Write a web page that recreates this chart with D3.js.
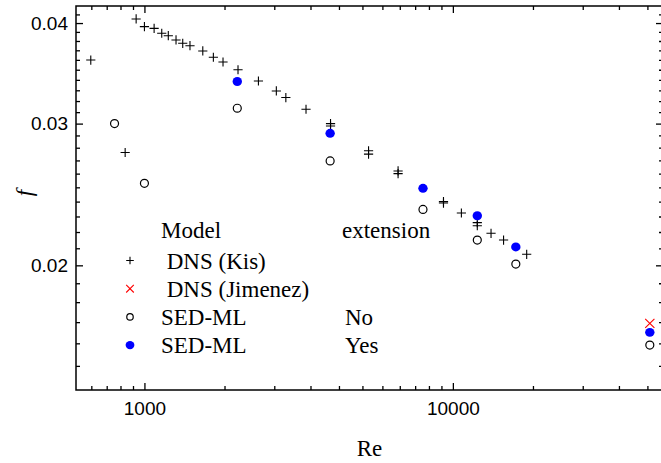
<!DOCTYPE html>
<html>
<head>
<meta charset="utf-8">
<script src="https://cdn.jsdelivr.net/npm/d3@7"></script>
<style>
body { margin: 0; background: #fff; }
svg { display: block; }
.tick text { font-family: "Liberation Sans", Arial, sans-serif; font-size: 19px; fill: #000; }
.lbl { font-family: "Liberation Serif", "Times New Roman", serif; font-size: 23px; fill: #000; }
</style>
</head>
<body>
<svg id="chart"></svg>
<script>
// DNS (Kis)
const kisRe = [670, 866, 940, 1000, 1075, 1138, 1195, 1266, 1331, 1405, 1546, 1673, 1798, 2011, 2342, 2677, 2874, 3341, 4012, 4012, 5329, 5329, 6643, 6643, 9323, 9323, 10656, 12000, 12000, 13296, 14600, 17350];
const kisF = [0.03598, 0.02762, 0.04047, 0.03959, 0.0394, 0.03885, 0.03858, 0.03811, 0.03775, 0.03749, 0.03693, 0.03627, 0.03578, 0.0350, 0.03389, 0.03294, 0.03232, 0.03126, 0.0300, 0.0298, 0.02776, 0.02749, 0.0262, 0.0260, 0.0240, 0.0239, 0.02323, 0.0226, 0.0224, 0.02192, 0.0215, 0.02064];
// DNS (Jimenez)
const jimRe = [43500];
const jimF = [0.01694];
// SED-ML, no extension
const noRe = [800, 1000, 2000, 4000, 8000, 12000, 16000, 43500];
const noF = [0.0300, 0.02529, 0.03135, 0.02696, 0.02347, 0.0215, 0.02007, 0.01592];
// SED-ML, with extension
const yesRe = [2000, 4000, 8000, 12000, 16000, 43500];
const yesF = [0.03384, 0.02918, 0.02493, 0.02305, 0.02108, 0.01651];

const xMajor = [1000, 10000];
const yMajor = [0.02, 0.03, 0.04];
const xMinorDecades = [100, 1000, 10000];
const yMinorStep = 0.001;

const legendHead = ["Model", "extension"];
const legendModels = [" DNS (Kis)", " DNS (Jimenez)", "SED-ML", "SED-ML"];
const legendExt = ["", "", "No", "Yes"];
const legendSym = ["plus", "cross", "open", "filled"];

const w = 661, h = 463;
const pL = 76, pT = 6, pR = 663, pB = 390;

const svg = d3.select("#chart").attr("width", w).attr("height", h);

const x = d3.scaleLog().domain([600, 48000]).range([pL, pR]);
const y = d3.scaleLog().domain([0.014, 0.042]).range([pB, pT]);

// minor ticks: 10 per interval, linear inside each decade
let xMinor = [];
xMinorDecades.forEach(d => {
    for (let k = 1; k <= 10; k++) xMinor.push(d + k * 9 * d / 11);
});
xMinor = xMinor.filter(v => v > 600 && v < 48000);
let yMinor = [];
for (let v = 0.014; v < 0.0421; v += yMinorStep) {
    const r = Math.round(v * 1000) / 1000;
    if (!yMajor.includes(r) && r > 0.014 && r < 0.042) yMinor.push(r);
}

const axisG = svg.append("g");
const addAxis = (axis, tx, ty) => {
    const g = axisG.append("g").attr("transform", `translate(${tx},${ty})`).call(axis);
    g.select(".domain").remove();
    g.selectAll("line").attr("stroke", "#000").attr("stroke-width", 1.3);
    return g;
};

addAxis(d3.axisBottom(x).tickValues(xMajor).tickSize(-7).tickPadding(12).tickFormat(d3.format("d")), 0, pB);
addAxis(d3.axisBottom(x).tickValues(xMinor).tickSize(-4).tickFormat(""), 0, pB);
addAxis(d3.axisTop(x).tickValues(xMajor).tickSize(-7).tickFormat(""), 0, pT);
addAxis(d3.axisTop(x).tickValues(xMinor).tickSize(-4).tickFormat(""), 0, pT);
addAxis(d3.axisLeft(y).tickValues(yMajor).tickSize(-7).tickPadding(8).tickFormat(d3.format(".2f")), pL, 0);
addAxis(d3.axisLeft(y).tickValues(yMinor).tickSize(-4).tickFormat(""), pL, 0);
addAxis(d3.axisRight(y).tickValues(yMajor).tickSize(-7).tickFormat(""), pR, 0);
addAxis(d3.axisRight(y).tickValues(yMinor).tickSize(-4).tickFormat(""), pR, 0);

svg.append("rect")
    .attr("x", pL).attr("y", pT)
    .attr("width", pR - pL).attr("height", pB - pT)
    .attr("fill", "none").attr("stroke", "#000").attr("stroke-width", 1.5);

// markers
const drawSym = (g, type, cx, cy, s) => {
    if (type === "plus") {
        g.append("path").attr("d", `M${cx - s},${cy}H${cx + s}M${cx},${cy - s}V${cy + s}`)
            .attr("stroke", "#000").attr("stroke-width", 1.1).attr("fill", "none");
    } else if (type === "cross") {
        g.append("path").attr("d", `M${cx - s},${cy - s}L${cx + s},${cy + s}M${cx - s},${cy + s}L${cx + s},${cy - s}`)
            .attr("stroke", "#ff0000").attr("stroke-width", 1.1).attr("fill", "none");
    } else if (type === "open") {
        g.append("circle").attr("cx", cx).attr("cy", cy).attr("r", s * 0.85)
            .attr("fill", "#fff").attr("stroke", "#000").attr("stroke-width", 1.2);
    } else {
        g.append("ellipse").attr("cx", cx).attr("cy", cy).attr("rx", s).attr("ry", s * 0.95)
            .attr("fill", "#0000ff");
    }
};

const pts = svg.append("g");
noRe.forEach((r, i) => drawSym(pts, "open", x(r), y(noF[i]), 4.7));
kisRe.forEach((r, i) => drawSym(pts, "plus", x(r), y(kisF[i]), 4.6));
yesRe.forEach((r, i) => drawSym(pts, "filled", x(r), y(yesF[i]), 4.7));
jimRe.forEach((r, i) => drawSym(pts, "cross", x(r), y(jimF[i]), 4.6));

// legend
const lg = svg.append("g");
lg.append("text").attr("class", "lbl").attr("x", 161).attr("y", 238).text(legendHead[0]);
lg.append("text").attr("class", "lbl").attr("x", 342).attr("y", 238).text(legendHead[1]);
legendModels.forEach((t, i) => {
    const by = 268.5 + i * 28.2;
    drawSym(lg, legendSym[i], 130, by - 8, legendSym[i] === "filled" ? 4.4 : 3.8);
    lg.append("text").attr("class", "lbl").attr("x", 161).attr("y", by)
        .style("white-space", "pre").text(t);
    lg.append("text").attr("class", "lbl").attr("x", 345).attr("y", by).text(legendExt[i]);
});

// axis titles
svg.append("text").attr("class", "lbl").attr("x", (pL + pR) / 2).attr("y", 456)
    .attr("text-anchor", "middle").text("Re");
svg.append("text").attr("class", "lbl").attr("transform", "translate(32,193) rotate(-90)")
    .attr("text-anchor", "middle").style("font-style", "italic").text("f");
</script>
</body>
</html>
